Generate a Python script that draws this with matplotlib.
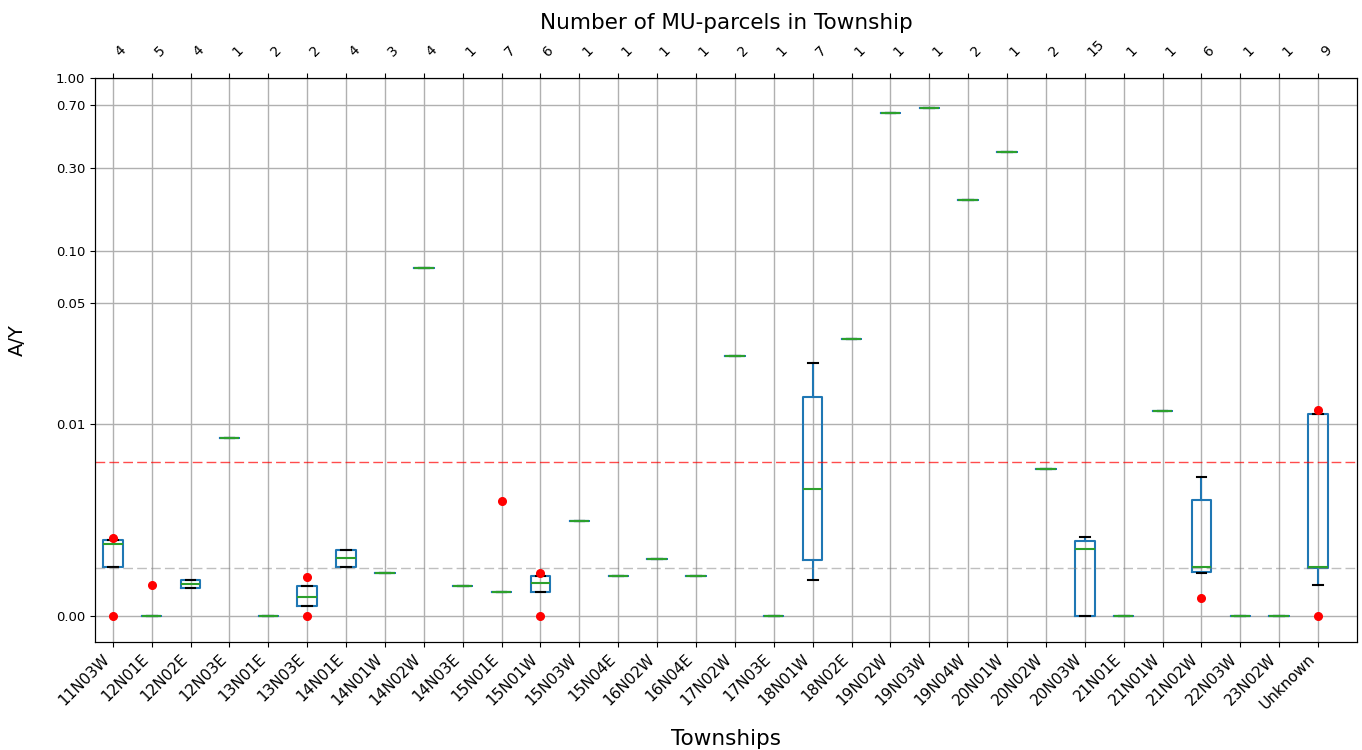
import matplotlib
matplotlib.use("Agg")
import matplotlib.pyplot as plt
from matplotlib.ticker import FixedLocator, NullLocator, FormatStrFormatter

townships = ["11N03W", "12N01E", "12N02E", "12N03E", "13N01E", "13N03E", "14N01E",
             "14N01W", "14N02W", "14N03E", "15N01E", "15N01W", "15N03W", "15N04E",
             "16N02W", "16N04E", "17N02W", "17N03E", "18N01W", "18N02E", "19N02W",
             "19N03W", "19N04W", "20N01W", "20N02W", "20N03W", "21N01E", "21N01W",
             "21N02W", "22N03W", "23N02W", "Unknown"]
n_parcels = [4, 5, 4, 1, 2, 2, 4, 3, 4, 1, 7, 6, 1, 1, 1, 1, 2, 1, 7, 1, 1, 1,
             2, 1, 2, 15, 1, 1, 6, 1, 1, 9]

# box statistics of A/Y per township
whis_lo = [0.00255, 0.0, 0.00144, 0.00927, 0.0, 0.00052, 0.00255, 0.00224, 0.0792,
           0.00154, 0.00123, 0.00123, 0.00497, 0.00209, 0.00295, 0.00209, 0.0248,
           0.0, 0.0019, 0.0311, 0.624, 0.667, 0.196, 0.372, 0.00764, 0.0, 0.0,
           0.01185, 0.00224, 0.0, 0.0, 0.00162]
q1 = [0.00255, 0.0, 0.00144, 0.00927, 0.0, 0.00052, 0.00255, 0.00224, 0.0792,
      0.00154, 0.00123, 0.00123, 0.00497, 0.00209, 0.00295, 0.00209, 0.0248,
      0.0, 0.0029, 0.0311, 0.624, 0.667, 0.196, 0.372, 0.00764, 0.0, 0.0,
      0.01185, 0.0023, 0.0, 0.0, 0.00252]
median = [0.00373, 0.0, 0.00166, 0.00927, 0.0, 0.0010, 0.00302, 0.00224, 0.0792,
          0.00154, 0.00123, 0.00173, 0.00497, 0.00209, 0.00295, 0.00209, 0.0248,
          0.0, 0.00662, 0.0311, 0.624, 0.667, 0.196, 0.372, 0.00764, 0.00351, 0.0,
          0.01185, 0.00255, 0.0, 0.0, 0.00256]
q3 = [0.00397, 0.0, 0.0019, 0.00927, 0.0, 0.00155, 0.00342, 0.00224, 0.0792,
      0.00154, 0.00123, 0.00209, 0.00497, 0.00209, 0.00295, 0.00209, 0.0248,
      0.0, 0.0144, 0.0311, 0.624, 0.667, 0.196, 0.372, 0.00764, 0.00389, 0.0,
      0.01185, 0.00606, 0.0, 0.0, 0.01138]
whis_hi = [0.00397, 0.0, 0.0019, 0.00927, 0.0, 0.00155, 0.00342, 0.00224, 0.0792,
           0.00154, 0.00123, 0.00209, 0.00497, 0.00209, 0.00295, 0.00209, 0.0248,
           0.0, 0.0225, 0.0311, 0.624, 0.667, 0.196, 0.372, 0.00764, 0.00413, 0.0,
           0.01185, 0.00722, 0.0, 0.0, 0.01138]
outliers = [[0.0, 0.00407], [0.00162], [], [], [], [0.0, 0.00202], [], [], [], [],
            [0.00597], [0.0, 0.00224], [], [], [], [], [], [], [], [], [], [], [],
            [], [], [], [], [], [0.00092], [], [], [0.0, 0.01205]]

upper_limit = 0.008
lower_limit = 0.0025

positions = list(range(1, len(townships) + 1))

stats = []
for i, name in enumerate(townships):
    stats.append(dict(label=name, whislo=whis_lo[i], q1=q1[i], med=median[i],
                      q3=q3[i], whishi=whis_hi[i], fliers=outliers[i]))

fig = plt.figure(figsize=(13.62, 7.5), dpi=100)
ax = fig.add_axes([0.0697, 0.144, 0.9266, 0.752])

ax.set_yscale("symlog", linthresh=0.01)
ax.grid(True, color="#b0b0b0", linewidth=1.0)
ax.set_axisbelow(True)

ax.bxp(stats, positions=positions, widths=0.5,
       boxprops=dict(color="#1f77b4", linewidth=1.5),
       whiskerprops=dict(color="#1f77b4", linewidth=1.5),
       capprops=dict(color="black", linewidth=1.5),
       medianprops=dict(color="#2ca02c", linewidth=1.5),
       flierprops=dict(marker="o", markerfacecolor="red", markeredgecolor="red",
                       markersize=5.5, linestyle="none"))

ax.axhline(upper_limit, color="red", linestyle="--", linewidth=1.0, alpha=0.7,
           dashes=(7, 3))
ax.axhline(lower_limit, color="gray", linestyle="--", linewidth=1.0, alpha=0.5,
           dashes=(7, 3))

ax.set_xlim(0.54, 33.0)
ax.set_ylim(-0.00135, 1.0)
ax.yaxis.set_major_locator(FixedLocator([0.0, 0.01, 0.05, 0.1, 0.3, 0.7, 1.0]))
ax.yaxis.set_major_formatter(FormatStrFormatter("%.2f"))
ax.yaxis.set_minor_locator(NullLocator())
ax.tick_params(axis="y", labelsize=9.5)

ax.set_xticks(positions)
ax.set_xticklabels(townships, rotation=45, ha="right", fontsize=11)
ax.set_xlabel("Townships", fontsize=15.5, labelpad=12)
ax.set_ylabel("A/Y", fontsize=14)
ax.yaxis.set_label_coords(-0.054, 0.535)

top = ax.twiny()
top.set_xlim(ax.get_xlim())
top.set_xticks(positions)
top.set_xticklabels([str(n) for n in n_parcels], rotation=45, ha="left", fontsize=10)
top.tick_params(axis="x", pad=10)
top.set_xlabel("Number of MU-parcels in Township", fontsize=15.5, labelpad=6)

fig.savefig("out.png", dpi=100)
